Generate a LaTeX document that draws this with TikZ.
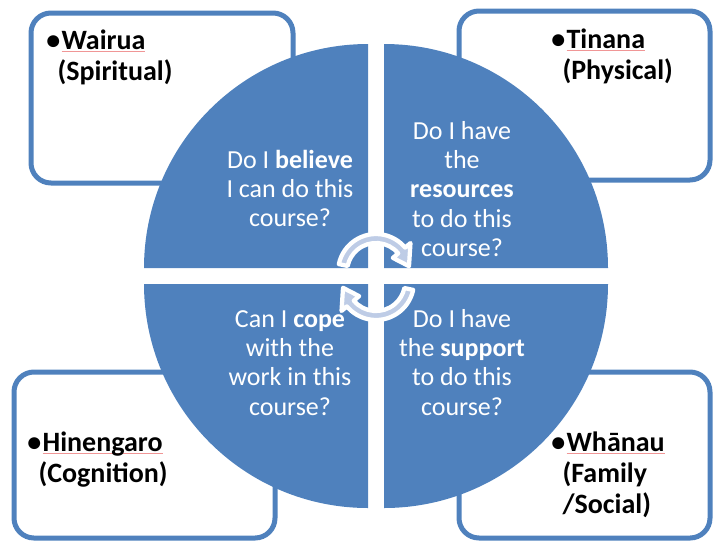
\documentclass[tikz,border=0pt]{standalone}
\usepackage{fontspec}
\setmainfont{Carlito}
\usepackage{xcolor}
\usepackage{tikz}
\usetikzlibrary{positioning, calc}
\definecolor{wheel}{RGB}{79, 129, 189}
\definecolor{loop}{RGB}{190, 204, 230}
\definecolor{squiggle}{RGB}{240, 150, 150}
\tikzstyle{frame} = [rectangle, rounded corners=15pt, draw=wheel, line width=3.75pt]
\tikzstyle{aspect} = [inner sep=0pt, text=black, font=\fontsize{21}{23.25}\selectfont\bfseries]
\tikzstyle{question} = [inner sep=0pt, text=white, font=\fontsize{19.5}{22}\selectfont]
\tikzstyle{quarter} = [fill=wheel]
\tikzstyle{cyclearrow} = [fill=loop, draw=white, line width=3.2pt, line join=round]
\newcommand{\spell}[1]{\setbox0\hbox{#1}\rlap{\textcolor{squiggle}{\rule[-2.2pt]{\wd0}{0.5pt}}}\box0}
\newcommand{\dotmark}{\makebox[11.5pt][l]{•}}

\begin{document}
\begin{tikzpicture}[x=0.75pt, y=0.75pt]
    \useasboundingbox (0,0) rectangle (713,-540);

    % Outer boxes
    \draw[frame] (31,-13) rectangle (293,-183);
    \draw[frame] (459,-11) rectangle (710,-180);
    \draw[frame] (14,-372) rectangle (275,-538);
    \draw[frame] (459,-372) rectangle (710,-538);

    % Box labels
    \node[aspect, anchor=base west] (wairua) at (46,-49) {
        \begin{tabular}[t]{@{}l@{}}
            \dotmark\spell{Wairua} \\
            \hspace{8.5pt}(Spiritual)
        \end{tabular}
    };
    \node[aspect, anchor=base west] (tinana) at (551,-48) {
        \begin{tabular}[t]{@{}l@{}}
            \dotmark\spell{Tinana} \\
            \hspace{8.5pt}(Physical)
        \end{tabular}
    };
    \node[aspect, anchor=base west] (hinengaro) at (27,-451) {
        \begin{tabular}[t]{@{}l@{}}
            \dotmark\spell{Hinengaro} \\
            \hspace{8.5pt}(Cognition)
        \end{tabular}
    };
    \node[aspect, anchor=base west] (whanau) at (551,-451) {
        \begin{tabular}[t]{@{}l@{}}
            \dotmark\spell{Whānau} \\
            \hspace{8.5pt}(Family \\
            \hspace{8.5pt}/Social)
        \end{tabular}
    };

    % Circle quarters
    \fill[quarter] (368,-268) -- ++(0,224) arc[start angle=90, end angle=180, radius=224] -- cycle;
    \fill[quarter] (384,-268) -- ++(224,0) arc[start angle=0, end angle=90, radius=224] -- cycle;
    \fill[quarter] (368,-284) -- ++(-224,0) arc[start angle=180, end angle=270, radius=224] -- cycle;
    \fill[quarter] (384,-284) -- ++(0,-224) arc[start angle=270, end angle=360, radius=224] -- cycle;

    % Questions
    \node[question, anchor=base] (believe) at (290,-168) {
        \begin{tabular}[t]{@{}c@{}}
            Do I \textbf{believe} \\
            I can do this \\
            course?
        \end{tabular}
    };
    \node[question, anchor=base] (resources) at (462,-139) {
        \begin{tabular}[t]{@{}c@{}}
            Do I have \\
            the \\
            \textbf{resources} \\
            to do this \\
            course?
        \end{tabular}
    };
    \node[question, anchor=base] (cope) at (290,-327) {
        \begin{tabular}[t]{@{}c@{}}
            Can I \textbf{cope} \\
            with the \\
            work in this \\
            course?
        \end{tabular}
    };
    \node[question, anchor=base] (support) at (462,-327) {
        \begin{tabular}[t]{@{}c@{}}
            Do I have \\
            the \textbf{support} \\
            to do this \\
            course?
        \end{tabular}
    };

    % Cycle arrows
    \foreach \cy/\rot in {-272/0, -282/180} {
        \begin{scope}[shift={(376,\cy)}, rotate=\rot]
            \filldraw[cyclearrow] (168:38) arc[start angle=168, end angle=40, radius=38]
                -- (40:45) -- (10:33.5) -- (40:22) -- (40:29)
                arc[start angle=40, end angle=168, radius=29] -- cycle;
        \end{scope}
    }
\end{tikzpicture}
\end{document}
